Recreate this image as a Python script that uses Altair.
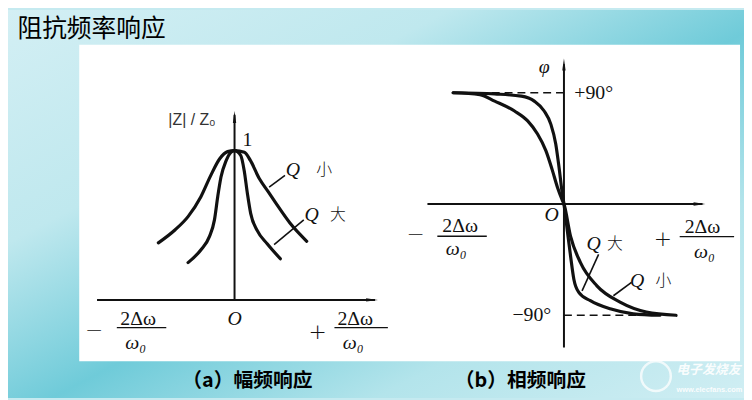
import altair as alt
import pandas as pd

INK = "#111111"
SERIF = "Liberation Serif"
CJK = "Noto Sans CJK SC"

# ---------------- Panel (a) 幅频响应 : |Z|/Z0 vs 2Δω/ω0 ----------------
a_small_x = [-0.77, -0.60, -0.47, -0.34, -0.24, -0.15, -0.07, 0.00, 0.10, 0.16, 0.25, 0.34, 0.43, 0.56, 0.73]
a_small_y = [0.382, 0.470, 0.558, 0.691, 0.834, 0.945, 0.993, 1.000, 0.989, 0.934, 0.813, 0.725, 0.636, 0.515, 0.393]
a_large_x = [-0.47, -0.337, -0.253, -0.203, -0.17, -0.137, -0.087, -0.037, 0.00, 0.063, 0.097, 0.13, 0.163, 0.23, 0.33, 0.463]
a_large_y = [0.250, 0.338, 0.426, 0.536, 0.691, 0.823, 0.929, 0.988, 1.000, 0.967, 0.868, 0.713, 0.580, 0.464, 0.376, 0.276]

a_xdom = [-2.29, 1.63]
a_ydom = [-0.6556, 1.9404]

# axes, leader lines and fraction bars (x, y, x2, y2)
a_axes = [(-1.39, 0.0, 1.42, 0.0), (0.0, 0.0, 0.0, 1.24)]
a_leaders = [(0.35, 0.755, 0.51, 0.834), (0.40, 0.371, 0.70, 0.536)]
a_bars = [(-1.19, -0.185, -0.69, -0.185), (1.01, -0.185, 1.55, -0.185)]
a_arrow_up = [(0.0, 1.225)]
a_arrow_right = [(1.39, 0.0)]

a_italic = [("O", 0.0, -0.126), ("Q", 0.59, 0.868), ("Q", 0.78, 0.570),
            ("ω₀", -1.00, -0.291), ("ω₀", 1.20, -0.291)]
a_roman = [("1", 0.13, 1.073), ("2Δω", -0.975, -0.126), ("2Δω", 1.22, -0.126)]
a_signs = [("−", -1.42, -0.200), ("+", 0.84, -0.215)]
a_cjk = [("小", 0.905, 0.868), ("大", 1.045, 0.570)]
a_sans = [("|Z| / Z₀", -0.43, 1.205)]
a_title = [("阻抗频率响应", -1.445, 1.8146)]
a_caption = [("（a）幅频响应", 0.13, -0.543)]

# ---------------- Panel (b) 相频响应 : φ (deg) vs 2Δω/ω0 ----------------
b_small_x = [-1.12, -0.85, -0.70, -0.50, -0.367, -0.267, -0.183, -0.117, -0.067, -0.017, 0.0, 0.067, 0.167, 0.333, 0.567, 0.833, 1.133]
b_small_y = [90, 88.5, 83.2, 75.2, 67.2, 56.6, 43.2, 27.2, 13.8, 3.2, 0, -26.2, -47.4, -66.2, -79.4, -87.4, -90]
b_large_x = [-1.12, -0.70, -0.43, -0.30, -0.20, -0.133, -0.083, -0.05, -0.017, 0.0, 0.033, 0.067, 0.10, 0.15, 0.267, 0.467, 0.70, 0.97]
b_large_y = [90, 89, 87.2, 83.2, 75.2, 64.6, 48.6, 29.8, 8.6, 0, -20.8, -42.2, -60.8, -71.4, -78.2, -84.8, -88.8, -90]

b_xdom = [-1.70, 1.82]
b_ydom = [-156.8, 156.8]

b_axes = [(-1.38, 0.0, 1.40, 0.0), (0.0, -116.0, 0.0, 113.0)]
b_dashed = [(-1.12, 90.0, 0.0, 90.0), (0.0, -90.0, 0.98, -90.0)]
b_leaders = [(0.183, -70.2, 0.35, -40.8), (0.50, -74.2, 0.683, -63.4)]
b_bars = [(-1.28, -26.1, -0.78, -26.1), (1.17, -26.4, 1.72, -26.4)]
b_arrow_up = [(0.0, 112.8)]
b_arrow_right = [(1.37, 0.0)]

b_italic = [("φ", -0.20, 110.4), ("O", -0.125, -8.8), ("Q", 0.30, -32.0), ("Q", 0.74, -62.4),
            ("ω₀", -1.09, -36.8), ("ω₀", 1.42, -39.0)]
b_roman = [("+90°", 0.30, 90.0), ("−90°", -0.325, -90.0), ("2Δω", -1.05, -17.6), ("2Δω", 1.40, -18.4)]
b_signs = [("−", -1.50, -24.0), ("+", 1.0, -28.0)]
b_cjk = [("大", 0.515, -32.0), ("小", 1.005, -62.4)]
b_caption = [("（b）相频响应", -0.44, -143.2)]
b_mark = [("电子发烧友", 1.46, -134.4)]
b_mark_url = [("www.elecfans.com", 1.47, -150.4)]
b_mark_ring = [(0.93, -139.2)]


def seg_df(rows):
    return pd.DataFrame(rows, columns=["x", "y", "x2", "y2"])


def pt_df(rows):
    return pd.DataFrame(rows, columns=["x", "y"])


def txt_df(rows):
    return pd.DataFrame(rows, columns=["t", "x", "y"])


def curves_df(pairs):
    frames = []
    for name, xs, ys in pairs:
        frames.append(pd.DataFrame({"x": xs, "y": ys, "order": list(range(len(xs))), "s": name}))
    return pd.concat(frames, ignore_index=True)


def enc(xdom, ydom):
    sx = alt.Scale(domain=xdom, nice=False, zero=False)
    sy = alt.Scale(domain=ydom, nice=False, zero=False)
    return (alt.X("x:Q", scale=sx, axis=None), alt.Y("y:Q", scale=sy, axis=None))


def segs(rows, xdom, ydom, width, dash=None):
    X, Y = enc(xdom, ydom)
    kw = dict(color=INK, strokeWidth=width)
    if dash:
        kw["strokeDash"] = dash
    return alt.Chart(seg_df(rows)).mark_rule(**kw).encode(x=X, y=Y, x2="x2:Q", y2="y2:Q")


def texts(rows, xdom, ydom, **style):
    X, Y = enc(xdom, ydom)
    st = dict(color=INK, baseline="middle", align="center")
    st.update(style)
    return alt.Chart(txt_df(rows)).mark_text(**st).encode(x=X, y=Y, text="t:N")


def arrows(rows, xdom, ydom, path):
    X, Y = enc(xdom, ydom)
    return alt.Chart(pt_df(rows)).mark_point(shape=path, filled=True, size=144, color=INK, opacity=1).encode(x=X, y=Y)


def curves(pairs, xdom, ydom):
    X, Y = enc(xdom, ydom)
    return alt.Chart(curves_df(pairs)).mark_line(
        color=INK, strokeWidth=3.2, interpolate="monotone", strokeCap="round"
    ).encode(x=X, y=Y, detail="s:N", order="order:Q")


UP = "M0,-1L0.28,1L-0.28,1Z"
RIGHT = "M1,0L-1,-0.28L-1,0.28Z"

one = pd.DataFrame({"k": [0]})
grad = alt.LinearGradient(
    gradient="linear",
    stops=[
        alt.GradientStop(color="#d3eff4", offset=0),
        alt.GradientStop(color="#bfe8ee", offset=0.3),
        alt.GradientStop(color="#6fcbd9", offset=0.53),
        alt.GradientStop(color="#b3e4eb", offset=0.75),
        alt.GradientStop(color="#d0eef3", offset=1),
    ],
    x1=0, y1=0, x2=1, y2=1,
)
# slide background and the white picture area (decoration, not data)
background = alt.Chart(one).mark_rect(fill=grad, strokeWidth=0).encode(
    x=alt.value(0), x2=alt.value(744), y=alt.value(0), y2=alt.value(392)
)
white = alt.Chart(one).mark_rect(fill="white", strokeWidth=0).encode(
    x=alt.value(72), x2=alt.value(740), y=alt.value(35), y2=alt.value(355)
)

panel_a = alt.layer(
    background,
    white,
    segs(a_axes, a_xdom, a_ydom, 2.0),
    arrows(a_arrow_up, a_xdom, a_ydom, UP),
    arrows(a_arrow_right, a_xdom, a_ydom, RIGHT),
    curves([("Q小", a_small_x, a_small_y), ("Q大", a_large_x, a_large_y)], a_xdom, a_ydom),
    segs(a_leaders, a_xdom, a_ydom, 1.6),
    segs(a_bars, a_xdom, a_ydom, 1.4),
    texts(a_italic, a_xdom, a_ydom, font=SERIF, fontStyle="italic", fontSize=20),
    texts(a_roman, a_xdom, a_ydom, font=SERIF, fontSize=20),
    texts(a_signs, a_xdom, a_ydom, font="DejaVu Sans", fontSize=22, fontWeight=200),
    texts(a_cjk, a_xdom, a_ydom, font=CJK, fontSize=16, fontWeight=300),
    texts(a_sans, a_xdom, a_ydom, font="Liberation Sans", fontSize=16, color="#333333"),
    texts(a_title, a_xdom, a_ydom, font=CJK, fontSize=25, color="#000000"),
    texts(a_caption, a_xdom, a_ydom, font=CJK, fontSize=20, fontWeight="bold", color="#000000"),
).properties(width=392, height=392)

Xb, Yb = enc(b_xdom, b_ydom)
panel_b = alt.layer(
    segs(b_axes, b_xdom, b_ydom, 2.0),
    segs(b_dashed, b_xdom, b_ydom, 1.5, dash=[8, 5]),
    arrows(b_arrow_up, b_xdom, b_ydom, UP),
    arrows(b_arrow_right, b_xdom, b_ydom, RIGHT),
    curves([("Q小", b_small_x, b_small_y), ("Q大", b_large_x, b_large_y)], b_xdom, b_ydom),
    segs(b_leaders, b_xdom, b_ydom, 1.6),
    segs(b_bars, b_xdom, b_ydom, 1.4),
    texts(b_italic, b_xdom, b_ydom, font=SERIF, fontStyle="italic", fontSize=20),
    texts(b_roman, b_xdom, b_ydom, font=SERIF, fontSize=20),
    texts(b_signs, b_xdom, b_ydom, font="DejaVu Sans", fontSize=22, fontWeight=200),
    texts(b_cjk, b_xdom, b_ydom, font=CJK, fontSize=16, fontWeight=300),
    texts(b_caption, b_xdom, b_ydom, font=CJK, fontSize=20, fontWeight="bold", color="#000000"),
    alt.Chart(pt_df(b_mark_ring)).mark_point(shape="circle", size=900, stroke="white", strokeWidth=2.5,
                                             filled=False, opacity=0.75).encode(x=Xb, y=Yb),
    texts(b_mark, b_xdom, b_ydom, font=CJK, fontSize=13, fontWeight="bold", fontStyle="italic",
          color="white", opacity=0.9),
    texts(b_mark_url, b_xdom, b_ydom, font="Liberation Sans", fontSize=7.5, fontWeight="bold",
          color="white", opacity=0.9),
).properties(width=352, height=392)

chart = alt.hconcat(panel_a, panel_b, spacing=0, bounds="flush").properties(
    padding=0, background="#c5eaf0"
).configure_view(strokeWidth=0)

chart.save("out.html", embed_options={"renderer": "svg", "actions": False})
